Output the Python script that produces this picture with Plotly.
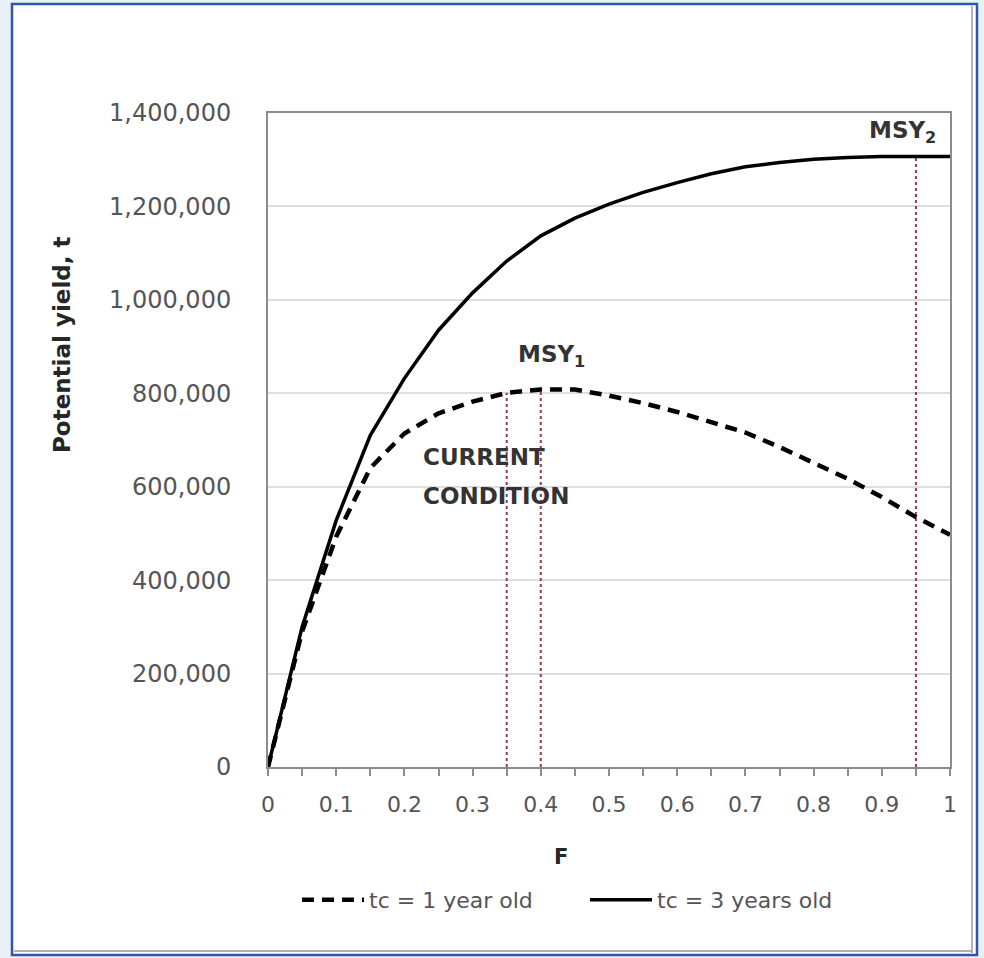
import plotly.graph_objects as go

# ---- data ----
F = [0.0, 0.05, 0.10, 0.15, 0.20, 0.25, 0.30, 0.35, 0.40, 0.45, 0.50,
     0.55, 0.60, 0.65, 0.70, 0.75, 0.80, 0.85, 0.90, 0.95, 1.00]
yield_tc1 = [0, 290000, 493000, 640000, 714000, 757000, 782000, 801000, 808000, 808000, 795000,
             779000, 760000, 738000, 716000, 685000, 652000, 617000, 578000, 535000, 497000]
yield_tc3 = [0, 300000, 528000, 710000, 832000, 935000, 1015000, 1083000, 1137000, 1175000, 1205000,
             1230000, 1251000, 1270000, 1285000, 1294000, 1301000, 1305000, 1307000, 1307000, 1307000]
ref_F = [0.35, 0.40, 0.95]
ref_top = [801000, 808000, 1307000]
series_names = ["tc = 1 year old", "tc = 3 years old"]
y_ticks = [0, 200000, 400000, 600000, 800000, 1000000, 1200000, 1400000]
x_ticks = [0, 0.1, 0.2, 0.3, 0.4, 0.5, 0.6, 0.7, 0.8, 0.9, 1]
x_ticklabels = ["0", "0.1", "0.2", "0.3", "0.4", "0.5", "0.6", "0.7", "0.8", "0.9", "1"]

FONT = "DejaVu Sans"
GRAY = "#555555"
DARK = "#262626"

fig = go.Figure()

# reference (dotted) lines
for f, top in zip(ref_F, ref_top):
    fig.add_trace(go.Scatter(x=[f, f], y=[0, top], mode="lines",
                             line=dict(color="#9a3c3c", width=2, dash="dot"),
                             showlegend=False, hoverinfo="skip"))

fig.add_trace(go.Scatter(x=F, y=yield_tc1, mode="lines", name=series_names[0],
                         line=dict(color="black", width=4.5, dash="12px,8px")))
fig.add_trace(go.Scatter(x=F, y=yield_tc3, mode="lines", name=series_names[1],
                         line=dict(color="black", width=3.5)))

W, H = 984, 958
L, R, T, B = 268, 34, 113, 191
pw, ph = W - L - R, H - T - B

def px(xp):
    return (xp - L) / pw

def py(yp):
    return (H - B - yp) / ph

# outer white panel with blue border
fig.add_shape(type="rect", xref="paper", yref="paper",
              x0=px(12), x1=px(977), y0=py(955), y1=py(4),
              fillcolor="white", line=dict(color="#2f57a6", width=2.5), layer="below")
fig.add_shape(type="line", xref="paper", yref="paper",
              x0=px(972), x1=px(972), y0=py(953), y1=py(6),
              line=dict(color="#9a9a9a", width=1.5), layer="below")
fig.add_shape(type="line", xref="paper", yref="paper",
              x0=px(14), x1=px(972), y0=py(951), y1=py(951),
              line=dict(color="#9a9a9a", width=1.5), layer="below")

ann_font = dict(family=FONT, size=23, color="#333333", weight="bold")
fig.add_annotation(x=0.415, y=880000, text="MSY<sub>1</sub>", showarrow=False,
                   font=ann_font, xanchor="center", yanchor="middle")
fig.add_annotation(x=0.931, y=1360000, text="MSY<sub>2</sub>", showarrow=False,
                   font=ann_font, xanchor="center", yanchor="middle")
fig.add_annotation(x=0.224, y=664000, text="CURRENT", showarrow=False,
                   font=ann_font, xanchor="left", yanchor="middle")
fig.add_annotation(x=0.224, y=580000, text="CONDITION", showarrow=False,
                   font=ann_font, xanchor="left", yanchor="middle")

# axis titles
fig.add_annotation(xref="paper", yref="paper", x=px(561), y=py(857), text="F",
                   showarrow=False, font=dict(family=FONT, size=21, color=DARK, weight="bold"),
                   xanchor="center", yanchor="middle")
fig.add_annotation(xref="paper", yref="paper", x=px(62), y=py(345), text="Potential yield, t",
                   showarrow=False, textangle=-90,
                   font=dict(family=FONT, size=23, color=DARK, weight="bold"),
                   xanchor="center", yanchor="middle")

fig.update_layout(
    width=W, height=H,
    margin=dict(l=L, r=R, t=T, b=B),
    paper_bgcolor="#e8f1f6",
    plot_bgcolor="white",
    font=dict(family=FONT, color=GRAY),
    showlegend=True,
    legend=dict(orientation="h", x=px(297), xanchor="left", y=py(900), yanchor="middle",
                font=dict(family=FONT, size=22, color=GRAY), bgcolor="rgba(0,0,0,0)",
                entrywidth=211, entrywidthmode="pixels", itemwidth=62),
    xaxis=dict(range=[0, 1], tickvals=x_ticks, ticktext=x_ticklabels,
               showgrid=False, zeroline=False,
               showline=True, linecolor="#8c8c8c", linewidth=2, mirror=True,
               ticks="outside", ticklen=7, tickwidth=1.5, tickcolor="#8c8c8c",
               minor=dict(dtick=0.05, tick0=0, ticks="outside", ticklen=7, tickwidth=1.5,
                          tickcolor="#8c8c8c", showgrid=False),
               tickfont=dict(family=FONT, size=22, color=GRAY),
               ticklabelstandoff=10),
    yaxis=dict(range=[0, 1400000], tickvals=y_ticks, tickformat=",",
               showgrid=True, gridcolor="#dedede", gridwidth=1.5, zeroline=False,
               showline=True, linecolor="#8c8c8c", linewidth=2, mirror=True,
               ticks="", tickfont=dict(family=FONT, size=24, color=GRAY),
               ticklabelstandoff=30),
)

fig.write_html("out.html", config={"displayModeBar": False},
               post_script="document.body.style.margin='0';document.body.style.padding='0';")
